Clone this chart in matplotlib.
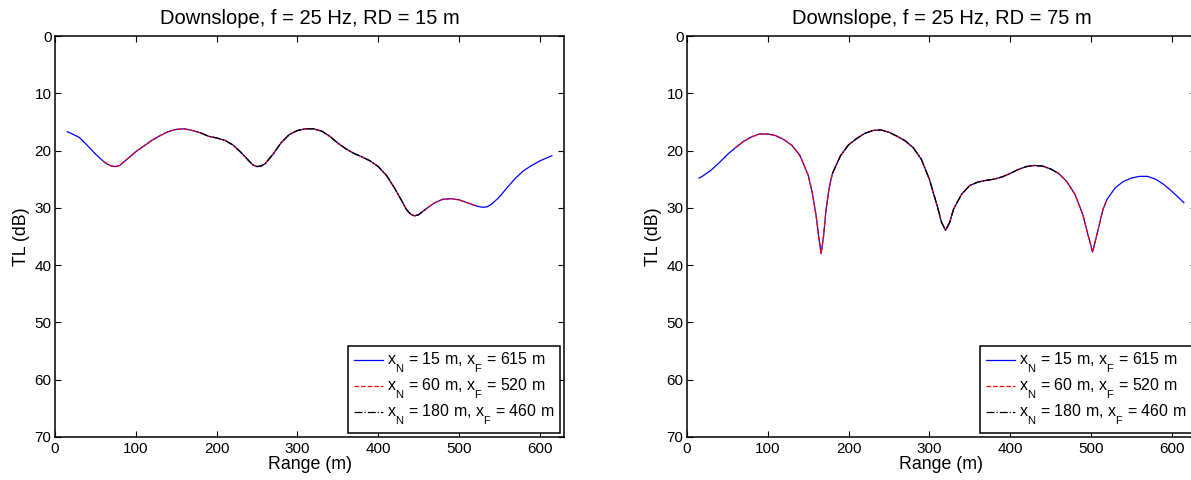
import matplotlib
matplotlib.use('Agg')
import matplotlib.pyplot as plt

plt.rcParams['font.family'] = ['Liberation Sans', 'DejaVu Sans']
plt.rcParams['mathtext.default'] = 'regular'

# drop the subscripts a bit lower, as in the original figure
try:
    from matplotlib import _mathtext
    _mathtext.FontConstantsBase.sub1 = 0.9
except Exception:
    pass

# TL curves (range in m, TL in dB)
range_rd15 = [15, 20, 30, 40, 50, 60, 65, 70, 75, 80, 90, 100, 110, 120, 130,
              140, 150, 160, 170, 180, 190, 200, 210, 220, 230, 240, 245, 250,
              255, 260, 270, 280, 290, 300, 310, 320, 330, 340, 350, 360, 370,
              380, 390, 400, 410, 420, 430, 435, 440, 445, 450, 460, 470, 480,
              490, 500, 510, 520, 525, 530, 535, 540, 550, 560, 570, 580, 590,
              600, 610, 615]
tl_rd15 = [16.7, 17.0, 17.7, 19.1, 20.6, 21.9, 22.4, 22.7, 22.8, 22.6, 21.4,
           20.2, 19.2, 18.2, 17.4, 16.7, 16.3, 16.2, 16.5, 16.9, 17.5, 17.8,
           18.2, 19.0, 20.3, 21.8, 22.5, 22.8, 22.7, 22.3, 20.6, 18.6, 17.2,
           16.5, 16.2, 16.2, 16.6, 17.5, 18.7, 19.7, 20.5, 21.1, 21.8, 22.8,
           24.3, 26.5, 29.0, 30.3, 31.1, 31.4, 31.2, 30.1, 29.1, 28.5, 28.4,
           28.6, 29.1, 29.6, 29.8, 29.9, 29.8, 29.4, 28.1, 26.4, 24.8, 23.5,
           22.6, 21.8, 21.2, 20.9]

range_rd75 = [15, 20, 30, 40, 50, 60, 70, 80, 90, 100, 110, 120, 130, 140, 150,
              155, 160, 163, 166, 169, 172, 176, 180, 190, 200, 210, 220, 230,
              240, 250, 260, 270, 280, 290, 300, 310, 315, 320, 325, 330, 340,
              350, 360, 370, 380, 390, 400, 410, 420, 430, 440, 450, 460, 470,
              480, 490, 495, 502, 508, 515, 520, 530, 540, 550, 560, 570, 580,
              590, 600, 610, 615]
tl_rd75 = [24.8, 24.4, 23.4, 22.1, 20.7, 19.5, 18.4, 17.6, 17.1, 17.1, 17.4,
           18.1, 19.1, 20.9, 24.3, 27.3, 31.5, 35.0, 38.0, 35.0, 30.5, 26.5,
           24.0, 20.9, 19.0, 17.9, 17.0, 16.5, 16.4, 16.8, 17.5, 18.3, 19.5,
           21.5, 25.0, 29.8, 32.5, 33.9, 32.6, 30.2, 27.6, 26.1, 25.5, 25.2,
           25.0, 24.6, 24.0, 23.3, 22.8, 22.6, 22.7, 23.2, 24.0, 25.4, 27.6,
           31.2, 34.0, 37.7, 34.3, 30.2, 28.5, 26.5, 25.4, 24.8, 24.5, 24.5,
           25.0, 25.9, 27.1, 28.4, 29.1]

# near/far limits of each run
x_near = [15, 60, 180]
x_far = [615, 520, 460]
colors = ['blue', 'red', 'black']
styles = ['-', '--', '-.']

titles = ['Downslope, f = 25 Hz, RD = 15 m', 'Downslope, f = 25 Hz, RD = 75 m']

fig = plt.figure(figsize=(11.91, 4.8), dpi=100)
ax1 = fig.add_axes([0.0462, 0.0896, 0.4274, 0.8354])
ax2 = fig.add_axes([0.5768, 0.0896, 0.4274, 0.8354])

for ax, rng, tl, title in [(ax1, range_rd15, tl_rd15, titles[0]),
                           (ax2, range_rd75, tl_rd75, titles[1])]:
    for xn, xf, c, ls in zip(x_near, x_far, colors, styles):
        pts = [(r, t) for r, t in zip(rng, tl) if xn <= r <= xf]
        ax.plot([p[0] for p in pts], [p[1] for p in pts], color=c,
                linestyle=ls, linewidth=0.9,
                label=f'x$_{{N}}$ = {xn} m, x$_{{F}}$ = {xf} m')
    ax.set_xlim(0, 630)
    ax.set_ylim(70, 0)
    ax.set_xticks(range(0, 601, 100))
    ax.set_yticks(range(0, 71, 10))
    ax.tick_params(direction='in', top=True, right=True, length=4,
                   labelsize=11)
    ax.tick_params(axis='x', pad=3.5)
    ax.tick_params(axis='y', pad=2.5)
    for s in ax.spines.values():
        s.set_linewidth(1.1)
    ax.set_title(title, fontsize=14.5, pad=9)
    ax.set_xlabel('Range (m)', fontsize=12.8, labelpad=0)
    ax.set_ylabel('TL (dB)', fontsize=12.8, labelpad=3)
    leg = ax.legend(loc='lower right', fontsize=11.5, handlelength=1.85,
                    handletextpad=0.25, labelspacing=0.12, borderaxespad=0.25,
                    borderpad=0.35, fancybox=False, framealpha=1,
                    edgecolor='black')
    leg.get_frame().set_linewidth(1.1)

fig.savefig('out.png', dpi=100)
